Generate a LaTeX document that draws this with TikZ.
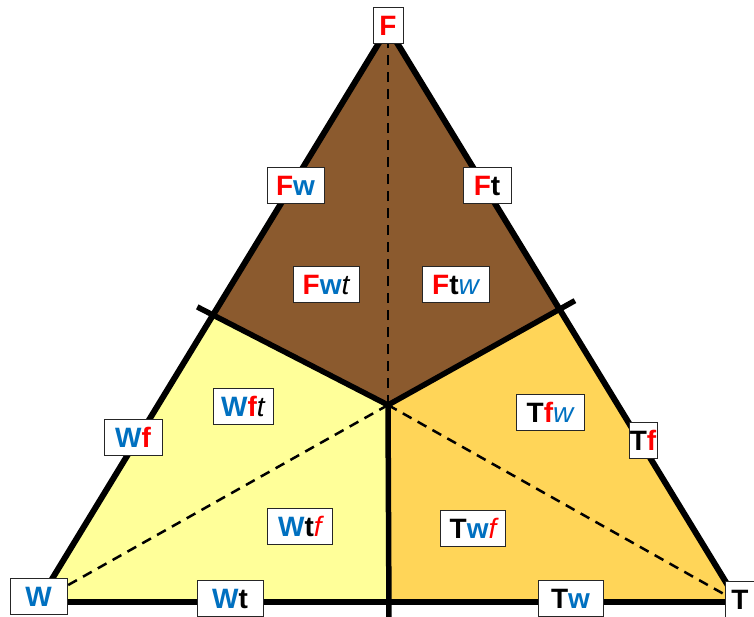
\documentclass[tikz,border=0pt]{standalone}
\usepackage{fontspec}
\setmainfont{Liberation Sans}
\usetikzlibrary{calc}

\definecolor{fred}{RGB}{255,0,0}
\definecolor{wblue}{RGB}{0,112,192}
\definecolor{brownzone}{RGB}{139,90,46}
\definecolor{paleyellow}{RGB}{255,255,153}
\definecolor{goldzone}{RGB}{255,213,88}

% bold capitals, bold lower case, light italic lower case
\newcommand\xF{\textcolor{fred}{F}}
\newcommand\xW{\textcolor{wblue}{W}}
\newcommand\xT{\textcolor{black}{T}}
\newcommand\xf{\textcolor{fred}{f}}
\newcommand\xw{\textcolor{wblue}{w}}
\newcommand\xt{\textcolor{black}{t}}
\newcommand\yf{{\mdseries\itshape\textcolor{fred}{f}}}
\newcommand\yw{{\mdseries\itshape\textcolor{wblue}{w}}}
\newcommand\yt{{\mdseries\itshape\textcolor{black}{t}}}

\begin{document}
\begin{tikzpicture}[x=1pt,y=-1pt,
  edge/.style={line width=6pt},
  divider/.style={line width=5.5pt},
  dashline/.style={line width=2.5pt, dash pattern=on 10pt off 7pt},
  lbl/.style={draw=black!85, line width=1pt, fill=white,
    minimum height=36pt, inner xsep=0pt, inner ysep=0pt,
    font=\fontsize{28}{28}\selectfont\bfseries,
    text height=20pt, text depth=0pt}]
\useasboundingbox (0,0) rectangle (754,616);

% corners, centre and side points
\coordinate (F) at (388,28);
\coordinate (W) at (38,602);
\coordinate (T) at (738,602);
\coordinate (C) at (388,405);
\coordinate (mL) at ($(F)!0.5!(W)$);
\coordinate (mR) at ($(F)!0.49!(T)$);
\coordinate (mB) at (389,602);
\coordinate (eL) at ($(C)!1.09!(mL)$);
\coordinate (eR) at ($(C)!1.09!(mR)$);
\coordinate (eB) at (389,622);

% the three zones
\fill[brownzone] (F) -- (mR) -- (C) -- (mL) -- cycle;
\fill[paleyellow] (mL) -- (C) -- (mB) -- (W) -- cycle;
\fill[goldzone] (mB) -- (C) -- (mR) -- (T) -- cycle;

% dashed lines from the centre to the corners
\draw[dashline] (C) -- (F);
\draw[dashline] (C) -- (W);
\draw[dashline] (C) -- (T);

% zone boundaries
\draw[divider] (C) -- (eL);
\draw[divider] (C) -- (eR);
\draw[divider] (C) -- (eB);

% outline
\draw[edge] (W) -- (F) -- (T);
\draw[edge] (W) -- (T);

% labels
\node[lbl, minimum width=30pt] (nF) at (388,25) {\xF};
\node[lbl, minimum width=57pt] (nFw) at (295.5,185) {\xF\xw};
\node[lbl, minimum width=48pt] (nFt) at (487,185) {\xF\xt};
\node[lbl, minimum width=66pt] (nFwt) at (326,284) {\xF\xw\yt};
\node[lbl, minimum width=67pt] (nFtw) at (455.5,284) {\xF\xt\yw};
\node[lbl, minimum width=60pt] (nWft) at (243,406) {\xW\xf\yt};
\node[lbl, minimum width=68pt] (nTfw) at (550,412) {\xT\xf\yw};
\node[lbl, minimum width=58pt] (nWf) at (133,437) {\xW\xf};
\node[lbl, minimum width=28pt] (nTf) at (643,440) {\xT\xf};
\node[lbl, minimum width=65pt] (nWtf) at (300,526) {\xW\xt\yf};
\node[lbl, minimum width=65pt] (nTwf) at (473,528) {\xT\xw\yf};
\node[lbl, minimum width=57pt] (nW) at (38.5,596) {\xW};
\node[lbl, minimum width=66pt] (nWt) at (230,598) {\xW\xt};
\node[lbl, minimum width=65pt] (nTw) at (570.5,598) {\xT\xw};
\node[lbl, minimum width=30pt] (nT) at (740,599) {\xT};
\end{tikzpicture}
\end{document}
